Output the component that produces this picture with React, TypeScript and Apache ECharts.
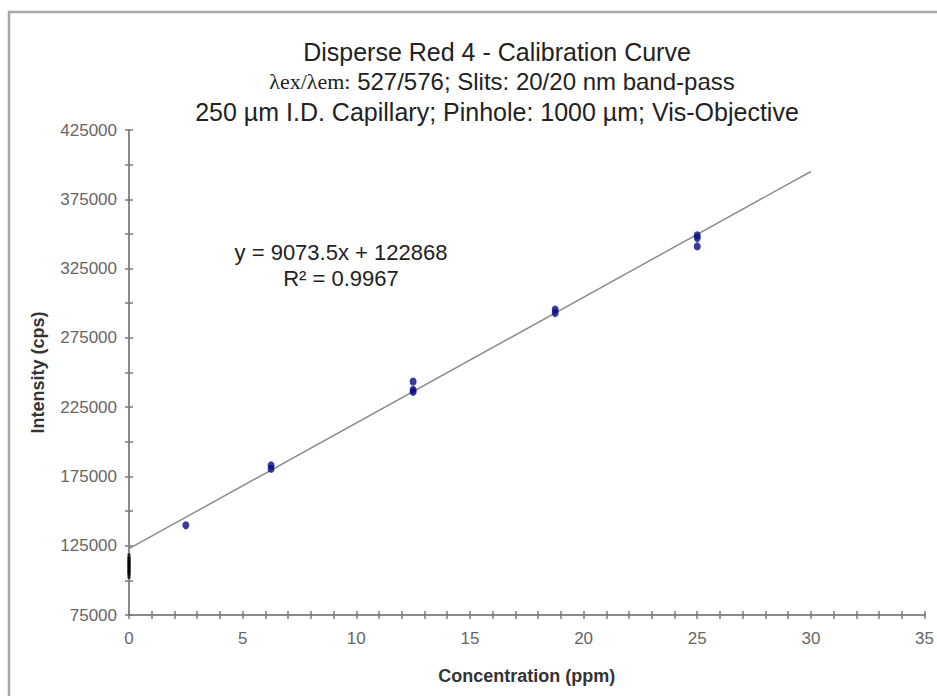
import React, { useEffect, useRef } from "react";
import * as echarts from "echarts";

const concentrations = [2.5, 6.25, 6.25, 12.5, 12.5, 12.5, 18.75, 18.75, 25, 25, 25];
const intensities = [139800, 180500, 183000, 243500, 237500, 236000, 293000, 295500, 349000, 347000, 341000];
const blankX = [0, 0, 0, 0, 0, 0];
const blankY = [104000, 106500, 109000, 111500, 114000, 116500];
const slope = 9073.5;
const intercept = 122868;
const fitRange = [0, 30];
const yTicks = [75000, 425000, 50000];
const xTicks = [0, 35, 5];

export default function App() {
  const ref = useRef<HTMLDivElement>(null);
  useEffect(() => {
    document.body.style.margin = "0";
    const chart = echarts.init(ref.current!, null, { renderer: "svg" });
    const font = "Arial, 'Liberation Sans', sans-serif";
    const tickStyle = { color: "#7a7a7a", width: 1.5 };
    const axisCommon = (min: number, max: number, interval: number, minorSplit: number) => ({
      type: "value" as const,
      min,
      max,
      interval,
      splitLine: { show: false },
      axisLine: { show: true, onZero: false, lineStyle: { color: "#8a8a8a", width: 2 } },
      axisTick: { show: true, length: 4, lineStyle: tickStyle },
      minorTick: { show: true, splitNumber: minorSplit, length: 4, lineStyle: tickStyle },
    });
    const option: any = {
      animation: false,
      backgroundColor: "#ffffff",
      grid: { left: 129, top: 130, right: 9, bottom: 81, containLabel: false },
      xAxis: [
        {
          ...axisCommon(xTicks[0], xTicks[1], xTicks[2], 5),
          name: "Concentration (ppm)",
          nameLocation: "middle",
          nameGap: 52,
          nameTextStyle: { fontFamily: font, fontSize: 18, fontWeight: "bold", color: "#333" },
          axisLabel: { color: "#666", fontFamily: font, fontSize: 17, margin: 15 },
        },
        {
          ...axisCommon(xTicks[0], xTicks[1], xTicks[2], 5),
          position: "bottom",
          axisLabel: { show: false },
          axisTick: { show: true, inside: true, length: 4, lineStyle: tickStyle },
          minorTick: { show: true, splitNumber: 5, length: 4, lineStyle: tickStyle },
        },
      ],
      yAxis: [
        {
          ...axisCommon(yTicks[0], yTicks[1], yTicks[2], 2),
          name: "Intensity (cps)",
          nameLocation: "middle",
          nameGap: 82,
          nameTextStyle: { fontFamily: font, fontSize: 18, fontWeight: "bold", color: "#333" },
          axisLabel: {
            color: "#666",
            fontFamily: font,
            fontSize: 17,
            margin: 12,
            formatter: (v: number) => String(v),
          },
        },
        {
          ...axisCommon(yTicks[0], yTicks[1], yTicks[2], 2),
          position: "left",
          axisLabel: { show: false },
          axisTick: { show: true, inside: true, length: 4, lineStyle: tickStyle },
          minorTick: { show: true, splitNumber: 2, length: 4, lineStyle: tickStyle },
        },
      ],
      series: [
        {
          type: "line",
          data: fitRange.map((x) => [x, slope * x + intercept]),
          showSymbol: false,
          symbol: "none",
          lineStyle: { color: "#8c8c8c", width: 1.5 },
          z: 1,
        },
        {
          type: "scatter",
          data: blankX.map((x, i) => [x, blankY[i]]),
          symbol: "rect",
          symbolSize: [3, 8],
          itemStyle: { color: "#000000" },
          z: 3,
        },
        {
          type: "scatter",
          data: concentrations.map((x, i) => [x, intensities[i]]),
          symbol: "circle",
          symbolSize: [7, 8],
          itemStyle: { color: "#0a0a86" },
          z: 3,
        },
      ],
      graphic: [
        {
          type: "rect",
          shape: { x: 9, y: 12, width: 1200, height: 1000 },
          style: { fill: "none", stroke: "#a8a8a8", lineWidth: 2.5 },
          z: -1,
        },
        {
          type: "text",
          x: 497,
          y: 52,
          style: {
            text: "Disperse Red 4 - Calibration Curve",
            fontFamily: font,
            fontSize: 25,
            fill: "#222",
            align: "center",
            verticalAlign: "middle",
          },
        },
        {
          type: "text",
          x: 502,
          y: 81,
          style: {
            text: "{s|λex/λem:} 527/576; Slits: 20/20 nm band-pass",
            fontFamily: font,
            fontSize: 24,
            fill: "#222",
            align: "center",
            verticalAlign: "middle",
            rich: {
              s: { fontFamily: "'Liberation Serif', 'DejaVu Serif', serif", fontSize: 22, fill: "#222" },
            },
          },
        },
        {
          type: "text",
          x: 497,
          y: 112,
          style: {
            text: "250 µm I.D. Capillary; Pinhole: 1000 µm; Vis-Objective",
            fontFamily: font,
            fontSize: 25,
            fill: "#222",
            align: "center",
            verticalAlign: "middle",
          },
        },
        {
          type: "text",
          x: 341,
          y: 252,
          style: {
            text: "y = 9073.5x + 122868",
            fontFamily: font,
            fontSize: 22,
            fill: "#222",
            align: "center",
            verticalAlign: "middle",
          },
        },
        {
          type: "text",
          x: 341,
          y: 278,
          style: {
            text: "R² = 0.9967",
            fontFamily: font,
            fontSize: 22,
            fill: "#222",
            align: "center",
            verticalAlign: "middle",
          },
        },
      ],
    };
    chart.setOption(option);
    return () => chart.dispose();
  }, []);
  return <div ref={ref} style={{ width: 937, height: 696 }} />;
}
